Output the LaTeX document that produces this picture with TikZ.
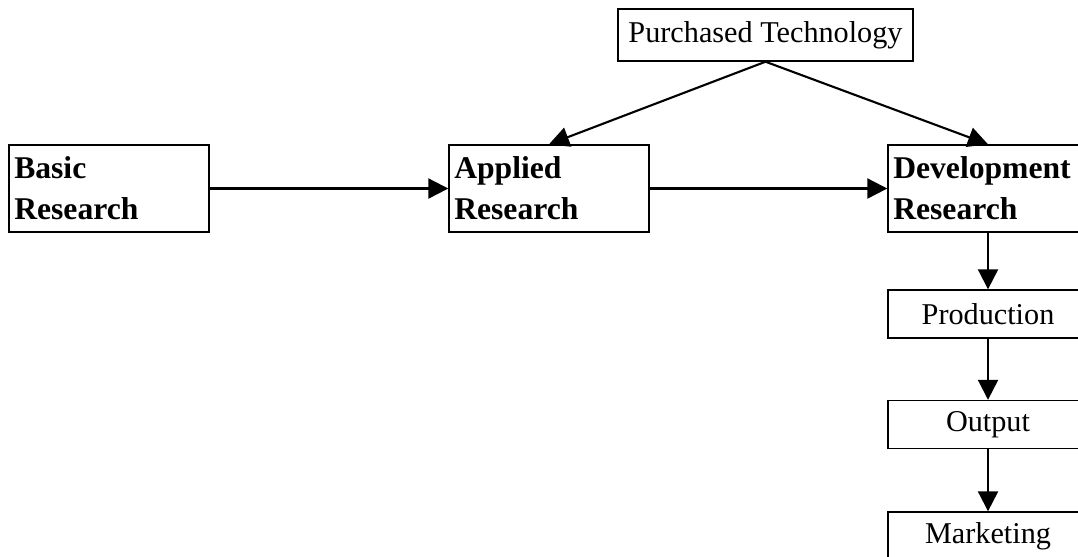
\documentclass[tikz,border=0pt]{standalone}
\usepackage{fontspec}
\setmainfont{Liberation Serif}
\usetikzlibrary{arrows.meta}

\tikzset{
    stage/.style={draw, line width=0.4pt, minimum width=2cm, minimum height=0.87cm,
        inner xsep=1.5pt, text width=2cm-3pt, align=left,
        font=\fontsize{9}{11.7}\selectfont\bfseries},
    step box/.style={draw, line width=0.4pt, minimum width=2cm, minimum height=0.48cm,
        inner sep=0pt, font=\fontsize{8.6}{10}\selectfont},
    flow/.style={line width=0.6pt, -{Triangle[length=5.7pt,width=5.7pt]}}
}

\begin{document}
\begin{tikzpicture}
    \useasboundingbox (0,0) rectangle (10.78,-5.56);

    % research stages
    \node[stage] (basic)   at (1.09,-1.885) {Basic\\Research};
    \node[stage] (applied) at (5.49,-1.885) {Applied\\Research};
    \node[stage] (devel)   at (9.88,-1.885) {Development\\Research};

    % technology bought in from outside
    \node[step box, minimum width=2.95cm, minimum height=0.52cm] (purchased)
        at (7.655,-0.35) {Purchased Technology};

    % downstream chain
    \node[step box] (prod)   at (9.88,-3.14) {Production};
    \node[step box] (output) at (9.88,-4.245) {Output};
    \node[step box] (market) at (9.88,-5.36) {Marketing};

    \draw[flow] (basic) -- (applied);
    \draw[flow] (applied) -- (devel);
    \draw[flow] (purchased.south) -- (applied.north);
    \draw[flow] (purchased.south) -- (devel.north);
    \draw[flow] (devel) -- (prod);
    \draw[flow] (prod) -- (output);
    \draw[flow] (output) -- (market);
\end{tikzpicture}
\end{document}
